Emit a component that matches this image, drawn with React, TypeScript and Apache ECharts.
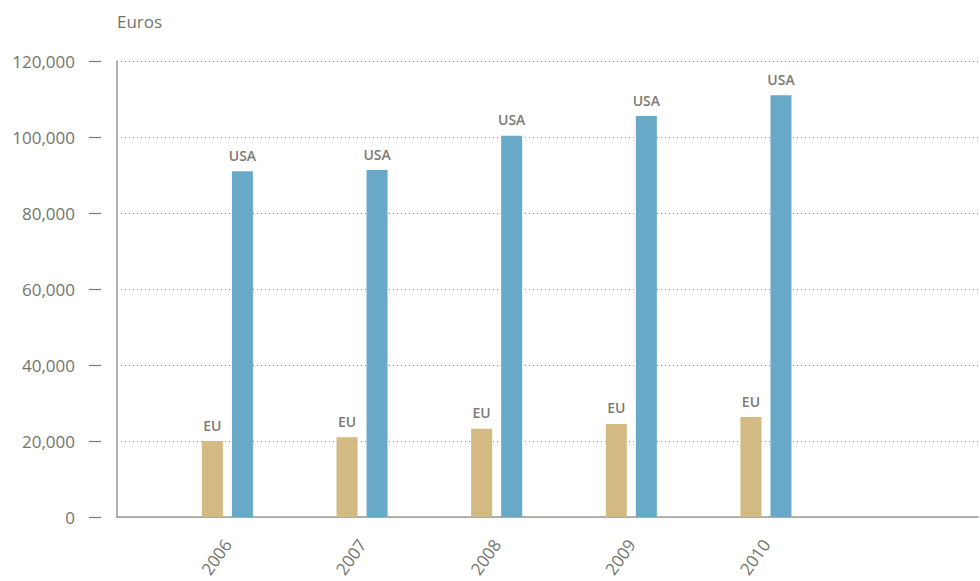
import React, { useEffect, useRef } from "react";
import * as echarts from "echarts";

const years = [2006, 2007, 2008, 2009, 2010];
const euValues = [20000, 21000, 23200, 24500, 26300];
const usaValues = [91000, 91300, 100300, 105500, 111000];
const yTicks = [0, 20000, 40000, 60000, 80000, 100000, 120000];

const FONT = "'Open Sans', 'Noto Sans', sans-serif";

export default function App() {
  const ref = useRef<HTMLDivElement>(null);
  useEffect(() => {
    if (!ref.current) return;
    const chart = echarts.init(ref.current, undefined, { renderer: "svg" });
    const barLabel = (name: string) => ({
      show: true,
      position: "top" as const,
      distance: 9,
      formatter: name,
      color: "#7b7b72",
      fontFamily: FONT,
      fontSize: 14,
      fontWeight: 600 as const,
    });
    chart.setOption({
      animation: false,
      backgroundColor: "#ffffff",
      grid: {
        left: 117,
        right: 2,
        top: 61,
        bottom: 64,
        containLabel: false,
        outerBoundsMode: "none",
      },
      xAxis: {
        type: "value",
        min: 2005.18,
        max: 2011.575,
        axisLine: { show: true, onZero: false, lineStyle: { color: "#9a9a94", width: 1.5 } },
        axisTick: { show: false },
        splitLine: { show: false },
        axisLabel: {
          customValues: years,
          formatter: (v: number) => String(Math.round(v)),
          rotate: 55,
          margin: 24,
          color: "#74746c",
          fontFamily: FONT,
          fontSize: 17,
        },
      },
      yAxis: [
        {
          type: "value",
          min: 0,
          max: 120000,
          interval: 20000,
          name: "Euros",
          nameLocation: "end",
          nameGap: 31,
          nameTextStyle: {
            align: "left",
            verticalAlign: "bottom",
            color: "#74746c",
            fontFamily: FONT,
            fontSize: 17,
          },
          axisLine: { show: true, lineStyle: { color: "#9a9a94", width: 1.5 } },
          axisTick: { show: false },
          axisLabel: { show: false },
          splitLine: {
            show: true,
            lineStyle: { type: [1, 3], color: "#8a8a84", width: 1 },
          },
        },
        {
          type: "value",
          min: 0,
          max: 120000,
          interval: 20000,
          position: "left",
          offset: 16,
          axisLine: { show: false },
          axisTick: { show: true, length: 12, lineStyle: { color: "#7a7a72", width: 1.2 } },
          axisLabel: {
            show: true,
            margin: 26,
            color: "#74746c",
            fontFamily: FONT,
            fontSize: 17,
            customValues: yTicks,
            formatter: (v: number) => v.toLocaleString("en-US"),
          },
          splitLine: { show: false },
        },
      ],
      series: [
        {
          name: "EU",
          type: "bar",
          barWidth: 21,
          barGap: "43%",
          itemStyle: { color: "#d3b982" },
          label: barLabel("EU"),
          data: years.map((y, i) => [y, euValues[i]]),
        },
        {
          name: "USA",
          type: "bar",
          barWidth: 21,
          barGap: "43%",
          itemStyle: { color: "#67a9c7" },
          label: barLabel("USA"),
          data: years.map((y, i) => [y, usaValues[i]]),
        },
      ],
    });
    return () => chart.dispose();
  }, []);
  return <div ref={ref} style={{ width: 980, height: 581, position: "absolute", left: 0, top: 0 }} />;
}
